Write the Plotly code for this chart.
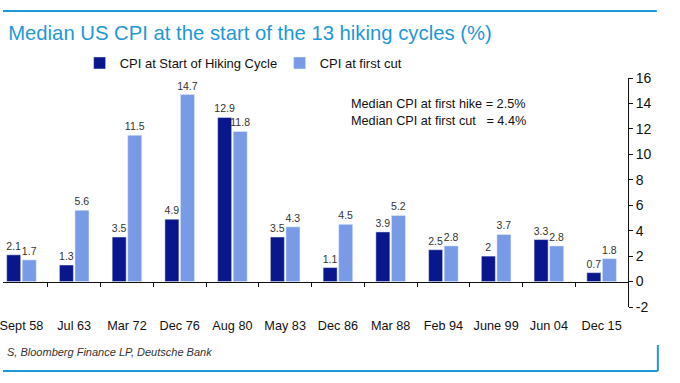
import plotly.graph_objects as go

categories = ["Sept 58", "Jul 63", "Mar 72", "Dec 76", "Aug 80", "May 83",
              "Dec 86", "Mar 88", "Feb 94", "June 99", "Jun 04", "Dec 15"]
cpi_start = [2.1, 1.3, 3.5, 4.9, 12.9, 3.5, 1.1, 3.9, 2.5, 2, 3.3, 0.7]
cpi_cut = [1.7, 5.6, 11.5, 14.7, 11.8, 4.3, 4.5, 5.2, 2.8, 3.7, 2.8, 1.8]
y_ticks = [-2, 0, 2, 4, 6, 8, 10, 12, 14, 16]

DARK = "#0a168c"
LIGHT = "#799be6"
BLUE = "#1f98d6"
FONT = "Liberation Sans"

fig = go.Figure()
fig.add_trace(go.Bar(x=categories, y=cpi_start, name="CPI at Start of Hiking Cycle",
                     marker_color=DARK, text=[str(v) for v in cpi_start],
                     textposition="outside", cliponaxis=False, constraintext="none",
                     textfont=dict(size=10.5, color="#333", family=FONT)))
fig.add_trace(go.Bar(x=categories, y=cpi_cut, name="CPI at first cut",
                     marker_color=LIGHT, text=[str(v) for v in cpi_cut],
                     textposition="outside", cliponaxis=False, constraintext="none",
                     textfont=dict(size=10.5, color="#333", family=FONT)))

fig.update_layout(
    width=680, height=383,
    margin=dict(l=0, r=52, t=78, b=76),
    paper_bgcolor="white", plot_bgcolor="white",
    font=dict(family=FONT, color="#111", size=12),
    barmode="group", bargap=0.41, bargroupgap=0.1,
    showlegend=True,
    legend=dict(orientation="h", x=0.1226, y=1.0, xanchor="left", yanchor="bottom",
                font=dict(size=13, color="#111", family=FONT),
                itemwidth=30, entrywidth=155, entrywidthmode="pixels",
                bgcolor="rgba(0,0,0,0)"),
    title=dict(text="Median US CPI at the start of the 13 hiking cycles (%)",
               x=0.012, xanchor="left", y=0.915, yanchor="middle",
               xref="container", yref="container",
               font=dict(size=20.3, color=BLUE, family=FONT)),
)

fig.update_xaxes(
    type="category", range=[-0.35, 11.5],
    anchor="free", position=2 / 18,
    showline=True, linecolor="#111", linewidth=1.2,
    ticks="outside", tickson="boundaries", ticklen=4, tickcolor="#111",
    ticklabelstandoff=32, tickangle=0,
    tickfont=dict(size=12.7, color="#111", family=FONT),
    showgrid=False, zeroline=False,
)
fig.update_yaxes(
    side="right", range=[-2, 16], tickvals=y_ticks,
    ticktext=[str(v) for v in y_ticks],
    showline=True, linecolor="#111", linewidth=1,
    ticks="outside", ticklen=4, tickcolor="#111",
    tickfont=dict(size=14, color="#111", family=FONT),
    showgrid=False, zeroline=False,
)

fig.add_annotation(text="Median CPI at first hike = 2.5%<br>Median CPI at first cut   = 4.4%",
                   xref="paper", yref="paper", x=0.553, y=0.925, xanchor="left", yanchor="top",
                   align="left", showarrow=False,
                   font=dict(size=12.7, color="#111", family=FONT))
fig.add_annotation(text="<i>S, Bloomberg Finance LP, Deutsche Bank</i>",
                   xref="paper", yref="paper", x=0.003, y=-0.197, xanchor="left", yanchor="middle",
                   showarrow=False, font=dict(size=11, color="#333", family=FONT))

# frame lines
fig.add_shape(type="line", xref="paper", yref="paper", x0=0, x1=657 / 628,
              y0=(307 - 11) / 229, y1=(307 - 11) / 229, line=dict(color=BLUE, width=2))
fig.add_shape(type="line", xref="paper", yref="paper", x0=0, x1=658 / 628,
              y0=(307 - 371) / 229, y1=(307 - 371) / 229, line=dict(color=BLUE, width=2))
fig.add_shape(type="line", xref="paper", yref="paper", x0=658 / 628, x1=658 / 628,
              y0=(307 - 345) / 229, y1=(307 - 371) / 229, line=dict(color=BLUE, width=2))

fig.write_html("out.html", config={"displayModeBar": False},
               post_script="document.body.style.margin='0';")
